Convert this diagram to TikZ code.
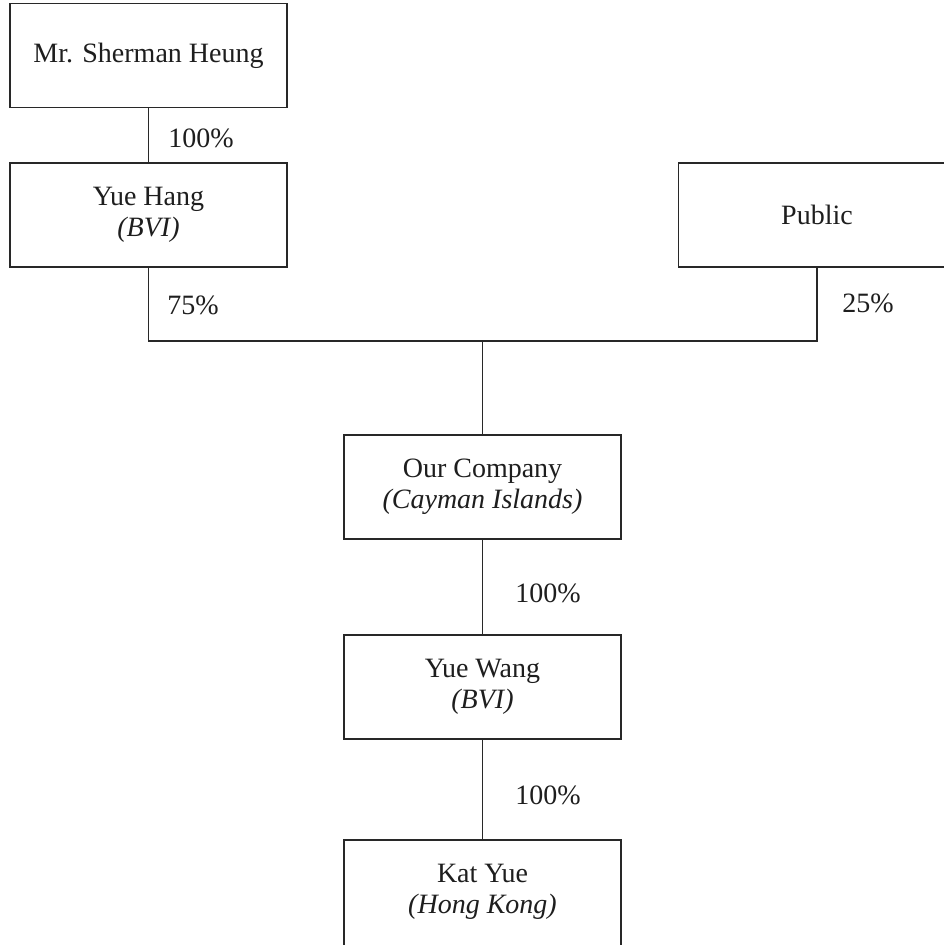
\documentclass[tikz,border=0pt]{standalone}
\usepackage{fontspec}
\setmainfont{Liberation Serif}
\begin{document}
\begin{tikzpicture}[x=1pt,y=-1pt,
  ent/.style={draw=linecol, line width=1.3pt, minimum width=277pt, minimum height=104pt,
    inner sep=0pt, outer sep=0pt, align=center, text=textcol,
    font=\fontsize{28}{31}\selectfont},
  pct/.style={text=textcol, inner sep=0pt, font=\fontsize{28}{31}\selectfont},
  conn/.style={draw=linecol, line width=1.3pt}]
\definecolor{linecol}{RGB}{40,40,40}
\definecolor{textcol}{RGB}{30,30,30}
\useasboundingbox (0,0) rectangle (944,945);
\clip (0,0) rectangle (944,945);
\fill[white] (0,0) rectangle (944,945);
\node[ent] (sherman) at (148.5,55.5) {Mr. Sherman Heung};
\node[ent] (yuehang) at (148.5,215) {Yue Hang\\\textit{(BVI)}};
\node[ent] (public) at (817,215) {Public};
\node[ent] (ourco) at (482.5,487) {Our Company\\\textit{(Cayman Islands)}};
\node[ent] (yuewang) at (482.5,687) {Yue Wang\\\textit{(BVI)}};
\node[ent, draw=none] (katyue) at (482.5,892) {Kat Yue\\\textit{(Hong Kong)}};
\draw[conn] (katyue.north west) rectangle ([yshift=-40pt]katyue.south east);
\coordinate (j) at (482.5,341);
\draw[conn] (sherman.south) -- (yuehang.north);
\draw[conn] (yuehang.south) |- (j);
\draw[conn] (public.south) |- (j);
\draw[conn] (j) -- (ourco.north);
\draw[conn] (ourco.south) -- (yuewang.north);
\draw[conn] (yuewang.south) -- (katyue.north);
\node[pct] (p1) at (201,138) {100\%};
\node[pct] (p2) at (193,305) {75\%};
\node[pct] (p3) at (868,303) {25\%};
\node[pct] (p4) at (548,593) {100\%};
\node[pct] (p5) at (548,795) {100\%};
\end{tikzpicture}
\end{document}
